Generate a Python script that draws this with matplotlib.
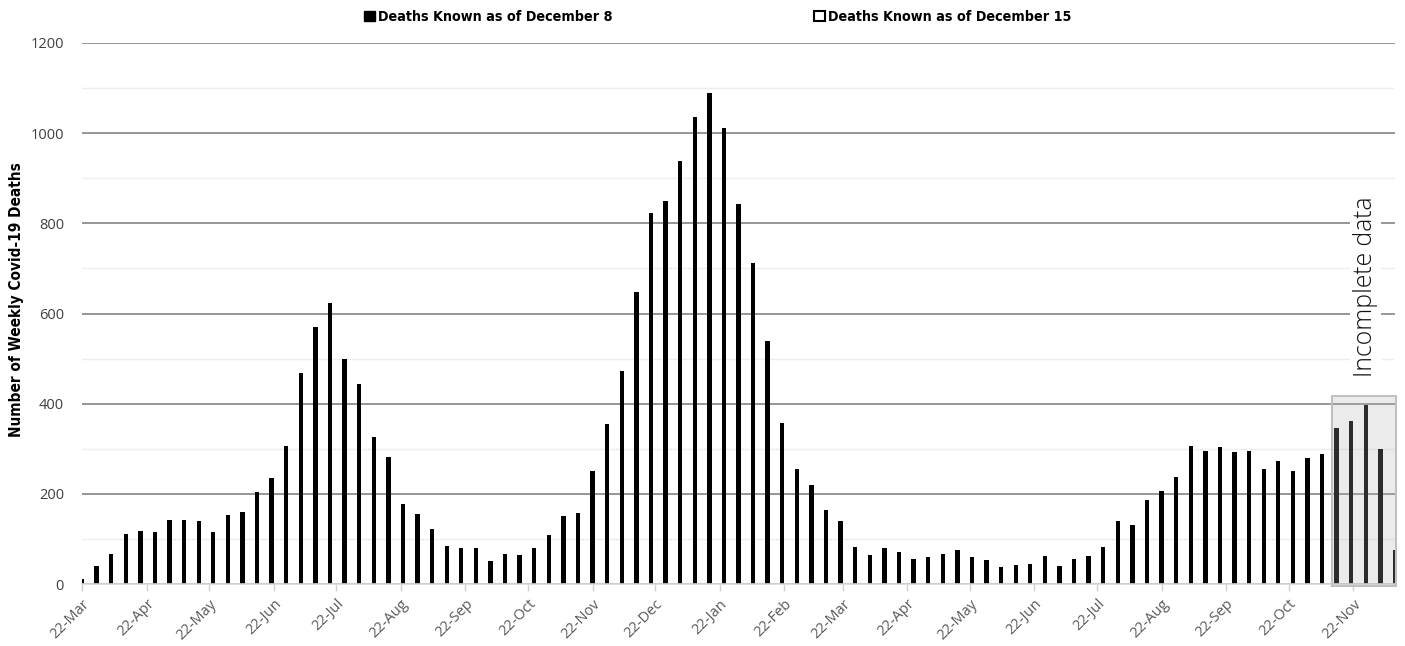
import os
import numpy as np
import pandas as pd
import matplotlib
matplotlib.use("Agg")
import matplotlib.pyplot as plt
import matplotlib.dates as mdates
from matplotlib import font_manager as fm
from matplotlib.patches import Rectangle, Patch

# ---------------- data ----------------
first_week = "2020-03-22"
weekly_deaths = [10, 41, 67, 111, 117, 116, 142, 142, 140, 116,
                 152, 160, 203, 236, 307, 469, 569, 623, 498, 443,
                 327, 281, 177, 156, 122, 85, 80, 79, 50, 66,
                 64, 79, 108, 150, 157, 251, 356, 472, 647, 824,
                 850, 938, 1035, 1088, 1011, 842, 713, 539, 358, 256,
                 220, 164, 139, 81, 64, 79, 70, 56, 59, 66,
                 75, 59, 53, 38, 43, 44, 63, 41, 55, 63,
                 81, 139, 130, 187, 207, 237, 305, 294, 303, 292,
                 296, 256, 272, 250, 279, 289, 346, 361, 396, 300, 76]
tick_dates = ["2020-03-22", "2020-04-22", "2020-05-22", "2020-06-22", "2020-07-22",
              "2020-08-22", "2020-09-22", "2020-10-22", "2020-11-22", "2020-12-22",
              "2021-01-22", "2021-02-22", "2021-03-22", "2021-04-22", "2021-05-22",
              "2021-06-22", "2021-07-22", "2021-08-22", "2021-09-22", "2021-10-22",
              "2021-11-22"]
legend_labels = ["Deaths Known as of December 8", "Deaths Known as of December 15"]
incomplete_start = "2021-11-12"
incomplete_top = 417
y_ticks = [0, 200, 400, 600, 800, 1000, 1200]

weeks = pd.date_range(first_week, periods=len(weekly_deaths), freq="7D")
ticks = pd.to_datetime(tick_dates)

# ---------------- fonts ----------------
def find_font(preferred):
    files = [f.fname for f in fm.fontManager.ttflist]
    for p in preferred:
        for fn in files:
            if os.path.basename(fn).lower() == p.lower():
                return fn
    return None

narrow_bold = find_font(["LiberationSansNarrow-Bold.ttf", "DejaVuSansCondensed-Bold.ttf",
                         "OpenSans_Condensed-Bold.ttf", "OpenSans-CondBold.ttf"])
if narrow_bold:
    fp_bold = fm.FontProperties(fname=narrow_bold)
else:
    fp_bold = fm.FontProperties(family="DejaVu Sans", weight="bold", stretch="condensed")

light_file = find_font(["OpenSans-Light.ttf", "Lato-Light.ttf", "Roboto-Light.ttf"])
if light_file:
    fp_light = fm.FontProperties(fname=light_file)
else:
    fp_light = fm.FontProperties(family="Open Sans", weight="light")

plt.rcParams["font.family"] = ["Open Sans", "DejaVu Sans"]

# ---------------- figure ----------------
W, H = 1405, 646
fig = plt.figure(figsize=(W / 100, H / 100), dpi=100)
ax = fig.add_axes([82 / W, (H - 584) / H, (1395 - 82) / W, (584 - 43) / H])

ax.bar(weeks, weekly_deaths, width=2.1, color="black", zorder=3)

ax.set_xlim(weeks[0], weeks[-1])
ax.set_ylim(0, 1200)
ax.set_yticks(y_ticks)
ax.set_yticks(np.arange(100, 1200, 200), minor=True)
ax.yaxis.grid(True, which="major", color="#8f8f8f", lw=1.3, zorder=0)
ax.yaxis.grid(True, which="minor", color="#eeeeee", lw=1.0, zorder=0)
ax.tick_params(axis="y", which="both", length=0, pad=13, labelsize=10.5, labelcolor="#404040")

ax.set_xticks(ticks)
ax.xaxis.set_major_formatter(mdates.DateFormatter("%d-%b"))
ax.tick_params(axis="x", direction="out", length=5, width=1, color="#d0d0d0",
               labelsize=10.5, labelcolor="#595959", pad=4)
for lab in ax.get_xticklabels():
    lab.set_rotation(45)
    lab.set_ha("right")
    lab.set_va("top")
    lab.set_rotation_mode("anchor")

for s in ["top", "right", "left"]:
    ax.spines[s].set_visible(False)
ax.spines["bottom"].set_color("#d9d9d9")
ax.spines["bottom"].set_linewidth(1.2)
ax.spines["bottom"].set_zorder(4)

# incomplete-data shaded box
x0 = mdates.date2num(pd.Timestamp(incomplete_start))
x1 = mdates.date2num(weeks[-1]) + 0.5
ax.add_patch(Rectangle((x0, -4), x1 - x0, incomplete_top + 4, facecolor="#b0b0b0",
                       alpha=0.25, edgecolor="none", zorder=5, clip_on=False))
ax.add_patch(Rectangle((x0, -4), x1 - x0, incomplete_top + 4, facecolor="none",
                       edgecolor="#c0c0c0", lw=1.5, zorder=6, clip_on=False))

fig.text(1365.5 / W, 1 - 287 / H, "Incomplete data", rotation=90, ha="center", va="center",
         fontproperties=fp_light, fontsize=17.8, color="#111111",
         bbox=dict(facecolor="white", edgecolor="none", pad=2), zorder=10)

# y label
fig.text(17 / W, 1 - 300 / H, "Number of Weekly Covid-19 Deaths", rotation=90,
         ha="center", va="center", fontproperties=fp_bold, fontsize=11, color="black")

# legend
handles = [Patch(facecolor="black", edgecolor="black"),
           Patch(facecolor="white", edgecolor="black", lw=1.5)]
leg = fig.legend(handles, legend_labels, loc="center", ncol=2, frameon=False,
                 bbox_to_anchor=(718 / W, 1 - 17 / H), prop=fp_bold,
                 handlelength=0.75, handleheight=0.75, handletextpad=0.25,
                 columnspacing=14.5)
for t in leg.get_texts():
    t.set_fontsize(10.3)

fig.savefig("out.png", dpi=100)
